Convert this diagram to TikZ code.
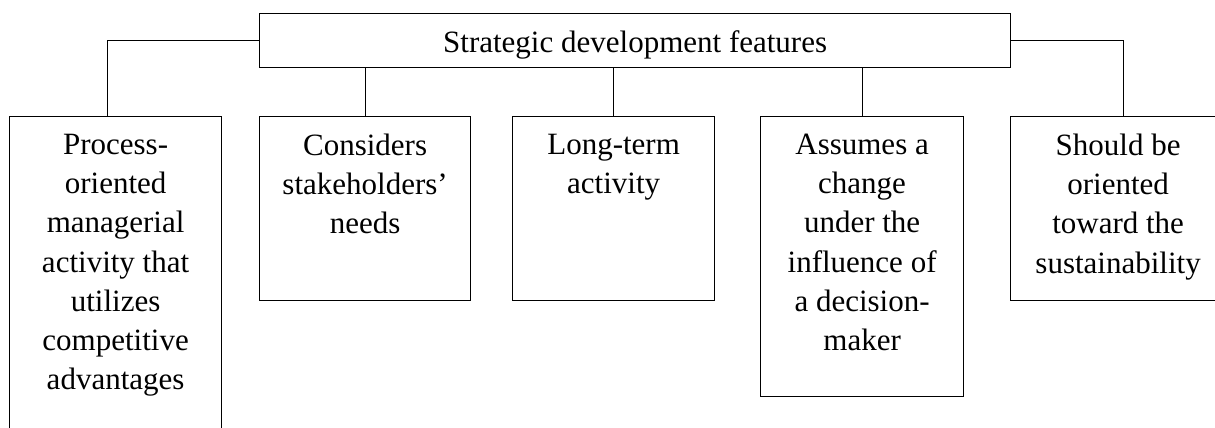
\documentclass[tikz,border=0pt]{standalone}
\usepackage{fontspec}
\setmainfont{Liberation Serif}
\tikzset{
  box/.style={draw, line width=0.6pt, inner sep=0pt, anchor=north west},
  txt/.style={anchor=north, align=center, inner sep=0pt, font=\fontsize{15.5pt}{19.65pt}\selectfont},
  conn/.style={line width=0.6pt}
}
\begin{document}
\begin{tikzpicture}[x=0.5pt,y=-0.5pt]
\useasboundingbox (0,0) rectangle (1215,428);
\clip (0,0) rectangle (1215,428);
\node[box, minimum width=375.5pt, minimum height=27pt, text height=12pt, text depth=0pt,
      font=\fontsize{15.5pt}{19.65pt}\selectfont] (top) at (259,13) {Strategic development features};
\node[box, minimum width=106pt, minimum height=162pt] (b1) at (9,116) {};
\node[box, minimum width=105.5pt, minimum height=92pt] (b2) at (259,116) {};
\node[box, minimum width=101pt, minimum height=92pt] (b3) at (512,116) {};
\node[box, minimum width=101.5pt, minimum height=140pt] (b4) at (760,116) {};
\node[box, minimum width=107.5pt, minimum height=92pt] (b5) at (1010,116) {};
\node[txt] (t1) at ([yshift=-8.7pt]b1.north) {Process-\\oriented\\managerial\\activity that\\utilizes\\competitive\\advantages};
\node[txt] (t2) at ([yshift=-8.7pt]b2.north) {Considers\\stakeholders’\\needs};
\node[txt] (t3) at ([yshift=-8.7pt]b3.north) {Long-term\\activity};
\node[txt] (t4) at ([yshift=-8.7pt]b4.north) {Assumes a\\change\\under the\\influence of\\a decision-\\maker};
\node[txt] (t5) at ([yshift=-8.7pt]b5.north) {Should be\\oriented\\toward the\\sustainability};
\draw[conn] (top.west) -| ([xshift=-4pt]b1.north);
\draw[conn] (top.east) -| ([xshift=2.5pt]b5.north);
\draw[conn] (b2.north) -- (b2.north |- top.south);
\draw[conn] (b3.north) -- (b3.north |- top.south);
\draw[conn] (b4.north) -- (b4.north |- top.south);
\end{tikzpicture}
\end{document}
